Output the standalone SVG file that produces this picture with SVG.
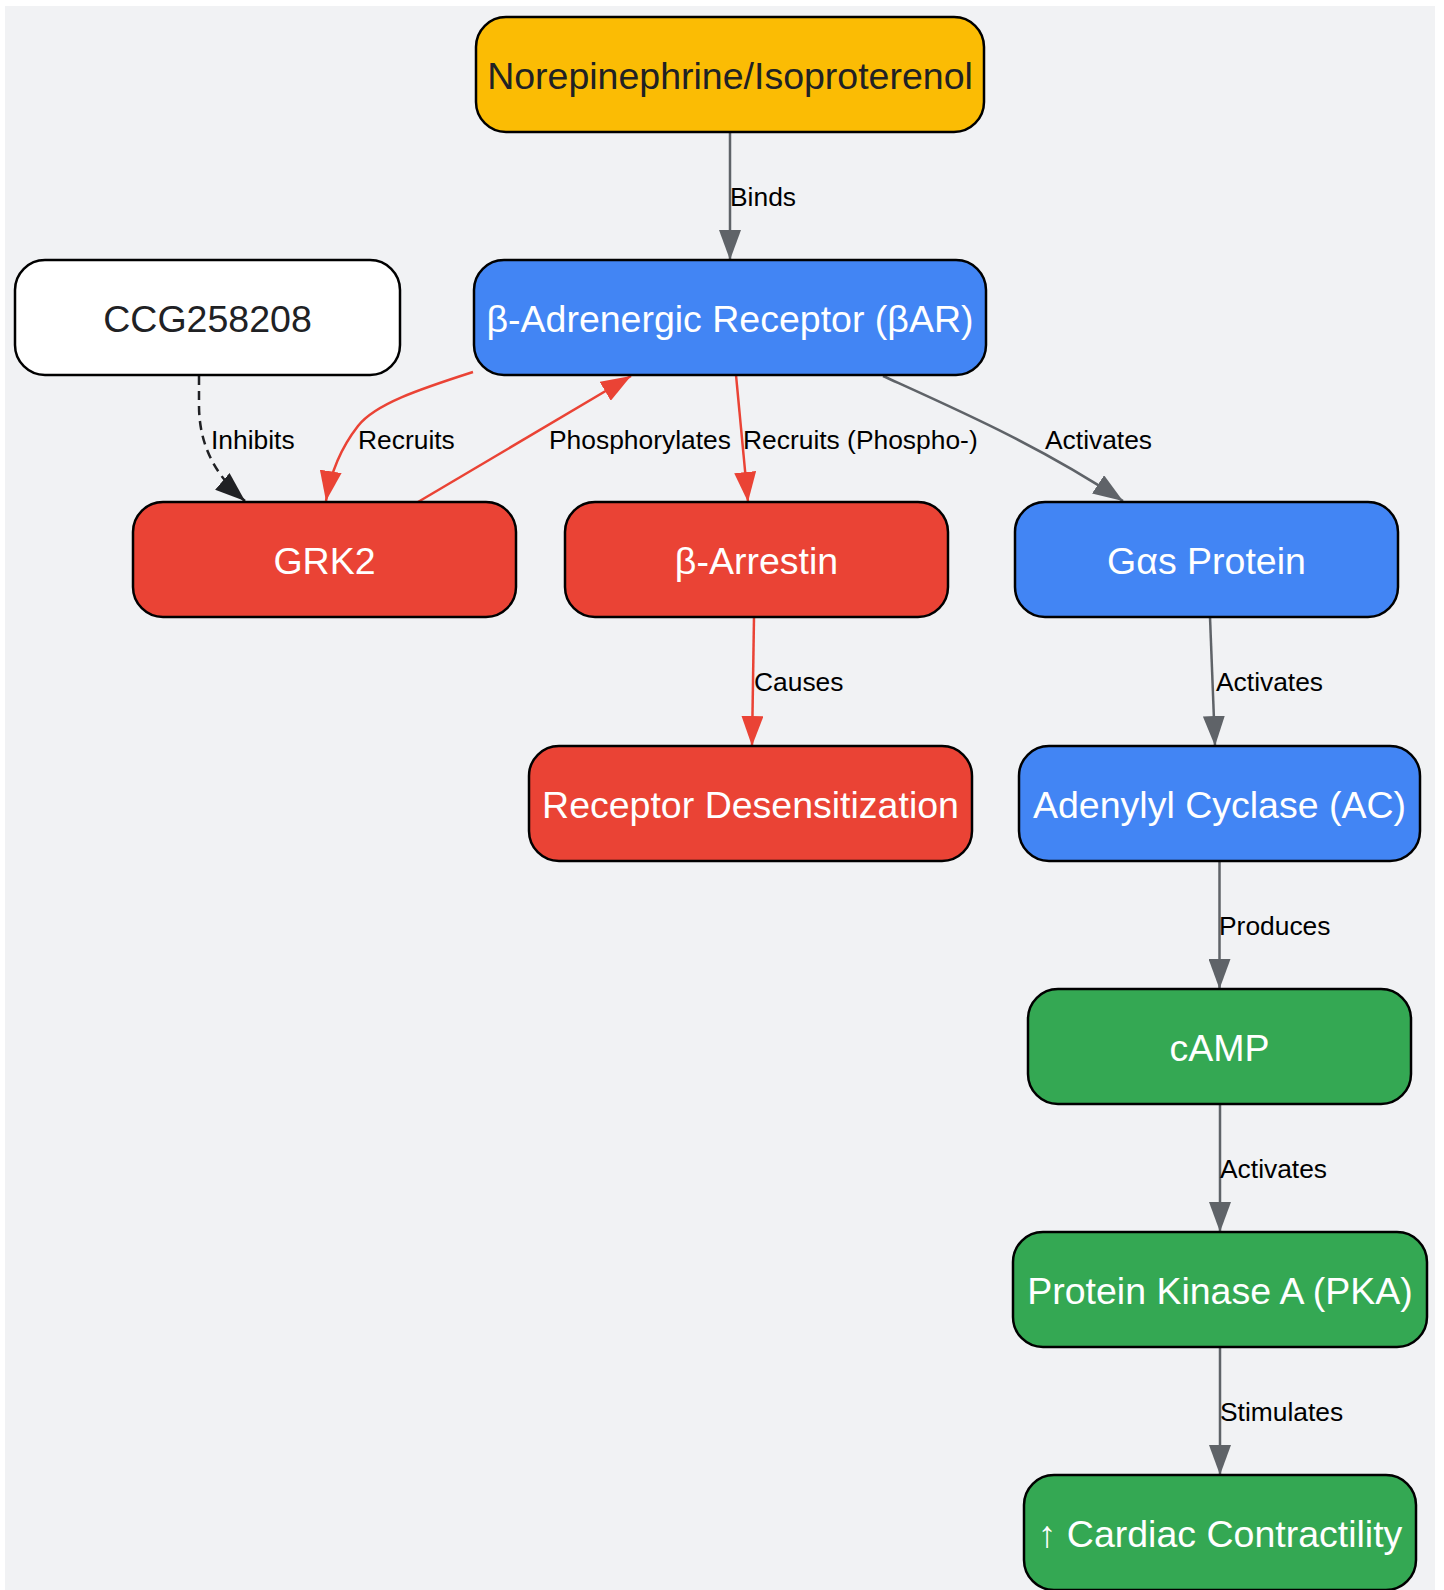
<svg xmlns="http://www.w3.org/2000/svg" width="1444" height="1590" viewBox="0 0 1444 1590">
<style>
.node rect{stroke:#000;stroke-width:2.5}
.node text{font-family:"Liberation Sans",Arial,sans-serif;font-size:37.5px;text-anchor:middle;fill:#fff}
.node text.dark{fill:#202124}
.edge{fill:none;stroke-width:2.5}
.gray{stroke:#5f6368}
.red{stroke:#ea4335}
.blk{stroke:#202124;stroke-dasharray:9,6}
.lbl{font-family:"Liberation Sans",Arial,sans-serif;font-size:26.4px;fill:#000}
</style>
<defs>
<marker id="ag" markerUnits="userSpaceOnUse" markerWidth="30" markerHeight="22" refX="30" refY="11" orient="auto"><path d="M0,0 L30,11 L0,22 z" fill="#5f6368"/></marker>
<marker id="ar" markerUnits="userSpaceOnUse" markerWidth="30" markerHeight="22" refX="30" refY="11" orient="auto"><path d="M0,0 L30,11 L0,22 z" fill="#ea4335"/></marker>
<marker id="ab" markerUnits="userSpaceOnUse" markerWidth="30" markerHeight="22" refX="30" refY="11" orient="auto"><path d="M0,0 L30,11 L0,22 z" fill="#202124"/></marker>
</defs>
<rect x="0" y="0" width="1444" height="1590" fill="#ffffff"/>
<rect x="5" y="6" width="1430" height="1584" fill="#f1f2f4"/>

<g id="connectors">
<path class="edge gray" d="M730,132 L730,260" marker-end="url(#ag)"/>
<path class="edge blk" d="M199,376 L199,405 C199,445 215,475 245,501" marker-end="url(#ab)"/>
<path class="edge red" d="M473,372 C420,389 375,404 358,426 C340,449 330,476 326,501" marker-end="url(#ar)"/>
<path class="edge red" d="M418,502 L631,376" marker-end="url(#ar)"/>
<path class="edge red" d="M736,375 L748,502" marker-end="url(#ar)"/>
<path class="edge gray" d="M883,376 C960,411 1040,446 1123,501" marker-end="url(#ag)"/>
<path class="edge red" d="M754,617 L752,746" marker-end="url(#ar)"/>
<path class="edge gray" d="M1210,617 L1215,746" marker-end="url(#ag)"/>
<path class="edge gray" d="M1219.5,861 L1219.5,989" marker-end="url(#ag)"/>
<path class="edge gray" d="M1220,1104 L1220,1232" marker-end="url(#ag)"/>
<path class="edge gray" d="M1220,1347 L1220,1475" marker-end="url(#ag)"/>
<text class="lbl" x="730" y="206">Binds</text>
<text class="lbl" x="211" y="449">Inhibits</text>
<text class="lbl" x="358" y="449">Recruits</text>
<text class="lbl" x="549" y="449">Phosphorylates</text>
<text class="lbl" x="743" y="449">Recruits (Phospho-)</text>
<text class="lbl" x="1045" y="449">Activates</text>
<text class="lbl" x="754" y="691">Causes</text>
<text class="lbl" x="1216" y="691">Activates</text>
<text class="lbl" x="1219" y="935">Produces</text>
<text class="lbl" x="1220" y="1178">Activates</text>
<text class="lbl" x="1220" y="1421">Stimulates</text>
</g>

<g id="norepinephrine" class="node"><rect x="476" y="17" width="508" height="115" rx="30" fill="#fbbc04"/><text class="dark" x="730" y="88.5">Norepinephrine/Isoproterenol</text></g>
<g id="bar" class="node"><rect x="474" y="260" width="512" height="115" rx="30" fill="#4285f4"/><text x="730" y="331.5">β-Adrenergic Receptor (βAR)</text></g>
<g id="ccg" class="node"><rect x="15" y="260" width="385" height="115" rx="30" fill="#ffffff"/><text class="dark" x="207.5" y="331.5">CCG258208</text></g>
<g id="grk2" class="node"><rect x="133" y="502" width="383" height="115" rx="30" fill="#ea4335"/><text x="324.5" y="573.5">GRK2</text></g>
<g id="arrestin" class="node"><rect x="565" y="502" width="383" height="115" rx="30" fill="#ea4335"/><text x="756.5" y="573.5">β-Arrestin</text></g>
<g id="gas" class="node"><rect x="1015" y="502" width="383" height="115" rx="30" fill="#4285f4"/><text x="1206.5" y="573.5">Gαs Protein</text></g>
<g id="desens" class="node"><rect x="529" y="746" width="443" height="115" rx="30" fill="#ea4335"/><text x="750.5" y="817.5">Receptor Desensitization</text></g>
<g id="ac" class="node"><rect x="1019" y="746" width="401" height="115" rx="30" fill="#4285f4"/><text x="1219.5" y="817.5">Adenylyl Cyclase (AC)</text></g>
<g id="camp" class="node"><rect x="1028" y="989" width="383" height="115" rx="30" fill="#34a853"/><text x="1219.5" y="1060.5">cAMP</text></g>
<g id="pka" class="node"><rect x="1013" y="1232" width="414" height="115" rx="30" fill="#34a853"/><text x="1220" y="1303.5">Protein Kinase A (PKA)</text></g>
<g id="cardiac" class="node"><rect x="1024" y="1475" width="392" height="115" rx="30" fill="#34a853"/><text x="1220" y="1546.5">↑ Cardiac Contractility</text></g>
</svg>
